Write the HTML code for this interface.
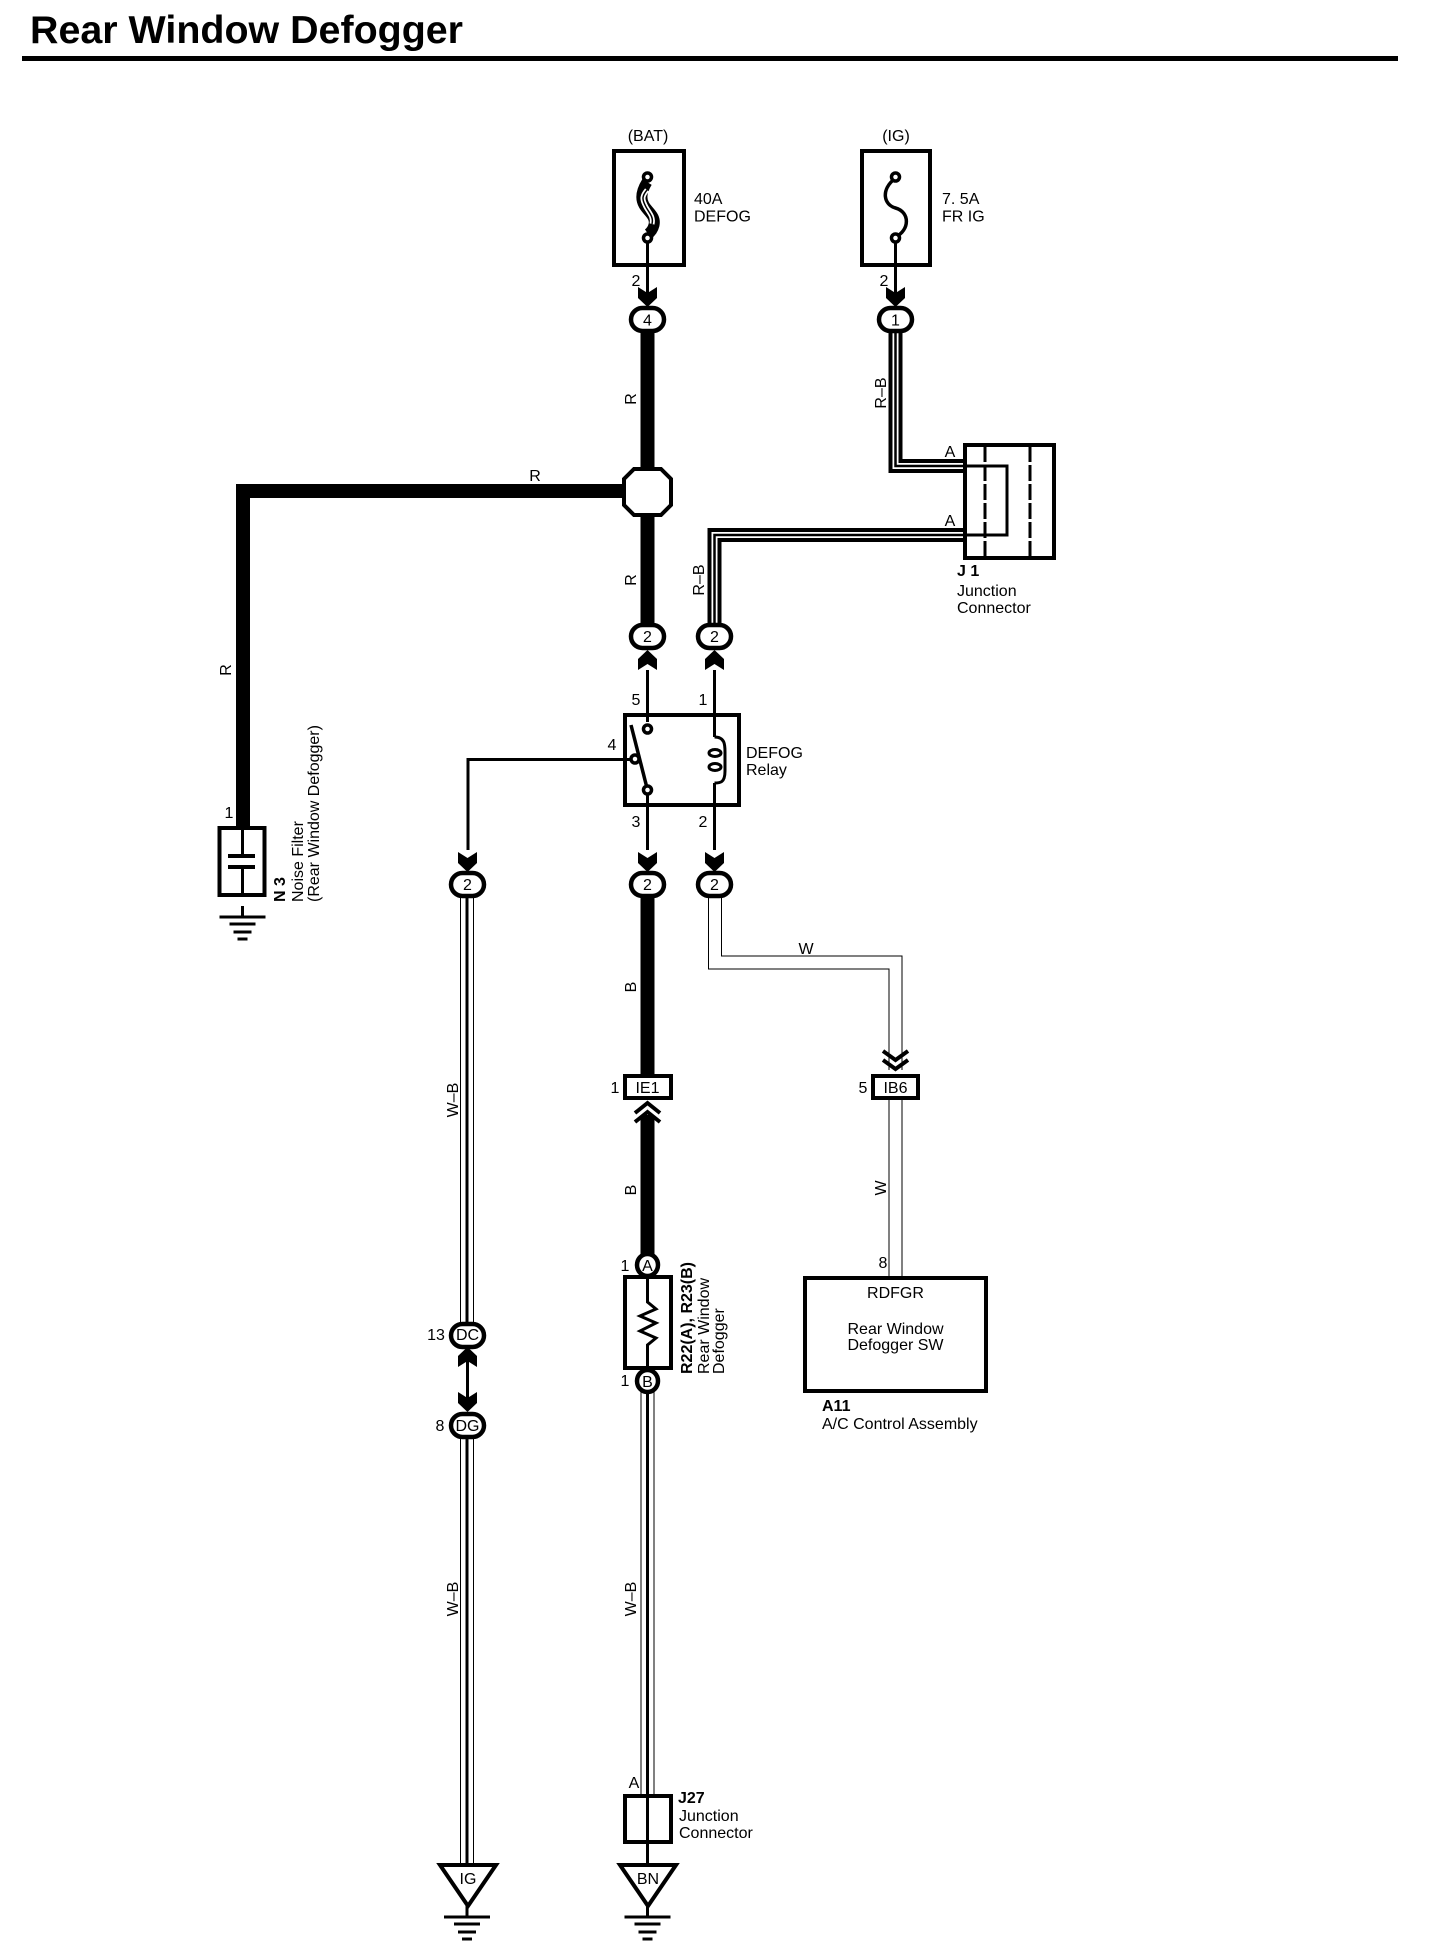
<!DOCTYPE html>
<html><head><meta charset="utf-8"><title>Rear Window Defogger</title>
<style>
html,body{margin:0;padding:0;background:#fff}
svg{display:block}
text{font-family:"Liberation Sans",sans-serif;font-size:16px;fill:#000}
.b{font-weight:bold}
.m{text-anchor:middle}
.s{fill:none;stroke:#000;stroke-width:3}
.w{fill:#fff;stroke:#000;stroke-width:4}
.c{fill:#fff;stroke:#000;stroke-width:4.500}
.k{stroke:#000;fill:none}
</style></head><body>
<svg width="1440" height="1956" viewBox="0 0 1440 1956" xmlns="http://www.w3.org/2000/svg">
<defs>
<path id="dn" d="M-9.500,-19 L0,-13 L9.500,-19 V-8 L0,1 L-9.500,-8Z" fill="#000"/>
<path id="up" d="M-9.500,19 L0,13 L9.500,19 V8 L0,-1 L-9.500,8Z" fill="#000"/>
<g id="gnd" class="k"><path d="M0,0V11" stroke-width="3"/><path d="M-23,11H23" stroke-width="3"/><path d="M-13,18H13M-9,26H9M-5,33H5" stroke-width="3"/></g>
</defs>
<text x="30" y="43" class="b" style="font-size:39px" textLength="433" lengthAdjust="spacingAndGlyphs">Rear Window Defogger</text>
<rect x="22" y="56" width="1376" height="5"/>

<!-- thick wires -->
<path class="k" stroke-width="14" stroke-linejoin="miter" d="M647.500,330V630M647.500,491H243V830M647.500,890V1078M647.500,1115V1256"/>

<!-- R-B wires -->
<path class="k" stroke-width="14" d="M895.500,330V466H966M714.500,628V535H966"/>
<path style="fill:none;stroke:#fff" stroke-width="6" d="M895.500,330V466H966M714.500,628V535H966"/>
<path class="k" stroke-width="2.500" d="M895.500,330V466H966M714.500,628V535H966"/>

<!-- W wire & W-B wires -->
<path class="k" stroke-width="14" d="M715,895V962.500H895.500V1070M895.500,1095V1280M467,895V1326M467,1436V1868M647.500,1390V1798"/>
<path style="fill:none;stroke:#fff" stroke-width="12" d="M715,895V962.500H895.500V1070M895.500,1095V1280M467,895V1326M467,1436V1868M647.500,1390V1798"/>
<path class="k" stroke-width="3" d="M467,895V1326M467,1436V1868M647.500,1390V1798"/>

<!-- fuses -->
<rect x="614" y="151" width="70" height="114" class="w"/>
<rect x="862" y="151" width="68" height="114" class="w"/>
<path class="k" stroke-width="11" d="M647,182C642,190 640,198 644,205C648,212 656,216 654,225C653,229 651,232 648,234"/>
<path d="M647,190C642,196 642,199 645,205C648,212 654,216 652,224" style="fill:none;stroke:#fff" stroke-width="5"/>
<path class="k" stroke-width="1.500" d="M647,190C642,196 642,199 645,205C648,212 654,216 652,224"/>
<path class="k" stroke-width="3.500" d="M895.500,178C880,190 884,205 895.500,208C910,212 910,230 895.500,237"/>
<path class="k" stroke-width="3" d="M647.500,238V295M895.500,238V295"/>
<circle cx="647.500" cy="177" r="4" class="w" style="stroke-width:3.500"/><circle cx="647.500" cy="238" r="4" class="w" style="stroke-width:3.500"/>
<circle cx="895.500" cy="177" r="4" class="w" style="stroke-width:3.500"/><circle cx="895.500" cy="238" r="4" class="w" style="stroke-width:3.500"/>
<use href="#dn" x="647.500" y="306"/><use href="#dn" x="895.500" y="306"/>
<text x="648" y="141" class="m">(BAT)</text><text x="896" y="141" class="m">(IG)</text>
<text x="694" y="204">40A</text><text x="694" y="221.500">DEFOG</text>
<text x="942" y="204">7. 5A</text><text x="942" y="221.500">FR IG</text>
<text x="636" y="286" class="m">2</text><text x="884" y="286" class="m">2</text>

<!-- octagon -->
<polygon points="634,469 661,469 671,479 671,505 661,515 634,515 624,505 624,479" class="w"/>

<!-- J1 -->
<rect x="965" y="445" width="89" height="113" class="w"/>
<path class="k" stroke-width="3" d="M965,466H1007V535H965"/>
<path class="k" stroke-width="3" stroke-dasharray="16 3" d="M985,446V557M1030,446V557"/>
<text x="950" y="457" class="m">A</text><text x="950" y="526" class="m">A</text>
<text x="957" y="576" class="b">J 1</text>
<text x="957" y="596">Junction</text><text x="957" y="613">Connector</text>

<!-- relay -->
<rect x="625" y="715" width="114" height="90" class="w"/>
<path class="k" stroke-width="3" d="M647.500,670V722M714.500,670V737M647.500,794V850M714.500,783V850M468,850V759.500H630"/>
<path class="k" stroke-width="3" d="M714.500,737C725,737 725,745 725,752C725,760 725,768 725,771C725,783 720,783 714.500,783"/>
<ellipse cx="715" cy="753" rx="6" ry="3.500" class="w" style="stroke-width:3"/>
<ellipse cx="715" cy="767" rx="6" ry="3.500" class="w" style="stroke-width:3"/>
<path class="k" stroke-width="3.500" d="M631,725L647,788"/>
<circle cx="647.500" cy="729" r="4" class="w" style="stroke-width:3.500"/>
<circle cx="635" cy="759" r="4" class="w" style="stroke-width:3.500"/>
<circle cx="647.500" cy="790" r="4" class="w" style="stroke-width:3.500"/>
<use href="#up" x="647.500" y="651"/><use href="#up" x="714.500" y="651"/>
<use href="#dn" x="467.500" y="871"/><use href="#dn" x="647.500" y="871"/><use href="#dn" x="714.500" y="871"/>
<text x="636" y="705" class="m">5</text><text x="703" y="705" class="m">1</text>
<text x="612" y="750" class="m">4</text>
<text x="636" y="827" class="m">3</text><text x="703" y="827" class="m">2</text>
<text x="746" y="758">DEFOG</text><text x="746" y="775">Relay</text>

<!-- oval connectors -->
<g>
<rect x="631" y="308" width="33" height="23" rx="11.500" class="c"/><text x="647.500" y="325.500" class="m">4</text>
<rect x="879" y="308" width="33" height="23" rx="11.500" class="c"/><text x="895.500" y="325.500" class="m">1</text>
<rect x="631" y="625" width="33" height="23" rx="11.500" class="c"/><text x="647.500" y="642" class="m">2</text>
<rect x="698" y="625" width="33" height="23" rx="11.500" class="c"/><text x="714.500" y="642" class="m">2</text>
<rect x="451" y="873" width="33" height="23" rx="11.500" class="c"/><text x="467.500" y="890" class="m">2</text>
<rect x="631" y="873" width="33" height="23" rx="11.500" class="c"/><text x="647.500" y="890" class="m">2</text>
<rect x="698" y="873" width="33" height="23" rx="11.500" class="c"/><text x="714.500" y="890" class="m">2</text>
<rect x="451" y="1324" width="33" height="23" rx="11.500" class="c"/><text x="467.500" y="1340" class="m">DC</text>
<rect x="451" y="1414" width="33" height="23" rx="11.500" class="c"/><text x="467.500" y="1431" class="m">DG</text>
<ellipse cx="647.500" cy="1265" rx="10.500" ry="11" class="c"/><text x="647.500" y="1271" class="m">A</text>
<ellipse cx="647.500" cy="1381" rx="10.500" ry="11" class="c"/><text x="647.500" y="1387" class="m">B</text>
</g>
<text x="436" y="1340" class="m">13</text><text x="440" y="1431" class="m">8</text>
<path class="k" stroke-width="3" d="M467.500,1360V1400"/>
<use href="#up" x="467.500" y="1348"/><use href="#dn" x="467.500" y="1411"/>

<!-- IE1 / IB6 -->
<rect x="625" y="1076" width="46" height="22" class="w"/><text x="647.500" y="1093" class="m">IE1</text>
<rect x="873" y="1076" width="45" height="22" class="w"/><text x="895.500" y="1093" class="m">IB6</text>
<text x="615" y="1093" class="m">1</text><text x="863" y="1093" class="m">5</text>
<path class="k" stroke-width="4" d="M883,1051L895.500,1060L908,1051M883,1060L895.500,1069L908,1060"/>
<path class="k" stroke-width="4" d="M635,1113L647.500,1103L660,1113M635,1122L647.500,1112L660,1122"/>

<!-- R22 -->
<rect x="625" y="1277" width="46" height="91" class="w"/>
<path class="k" stroke-width="3" d="M647.500,1278V1302L656,1309L640,1316L656,1323L640,1331L656,1338L647.500,1345V1367"/>
<text x="625" y="1271" class="m">1</text><text x="625" y="1386" class="m">1</text>
<text transform="translate(692,1374) rotate(-90)" class="b">R22(A), R23(B)</text>
<text transform="translate(709,1374) rotate(-90)">Rear Window</text>
<text transform="translate(724,1374) rotate(-90)">Defogger</text>

<!-- A11 -->
<rect x="805" y="1278" width="181" height="113" class="w"/>
<text x="895.500" y="1298" class="m">RDFGR</text>
<text x="895.500" y="1334" class="m">Rear Window</text><text x="895.500" y="1350" class="m">Defogger SW</text>
<text x="822" y="1411" class="b">A11</text>
<text x="822" y="1429">A/C Control Assembly</text>
<text x="883" y="1268" class="m">8</text>

<!-- Noise filter -->
<rect x="219.500" y="828" width="45" height="67" class="w"/>
<path class="k" stroke-width="3" d="M242.500,830V855M242.500,869V895"/>
<path class="k" stroke-width="4" d="M228,856H255M228,867H255"/>
<use href="#gnd" x="242.500" y="895" transform="translate(0,11)"/>
<text x="229" y="818" class="m">1</text>
<text transform="translate(285,902) rotate(-90)" class="b">N 3</text>
<text transform="translate(303,902) rotate(-90)">Noise Filter</text>
<text transform="translate(319,902) rotate(-90)">(Rear Window Defogger)</text>

<!-- wire labels -->
<g>
<text transform="translate(636,399) rotate(-90)" class="m">R</text>
<text transform="translate(636,580) rotate(-90)" class="m">R</text>
<text transform="translate(231,670) rotate(-90)" class="m">R</text>
<text x="535" y="481" class="m">R</text>
<text transform="translate(886,393) rotate(-90)" class="m">R–B</text>
<text transform="translate(704,580) rotate(-90)" class="m">R–B</text>
<text transform="translate(636,987) rotate(-90)" class="m">B</text>
<text transform="translate(636,1190) rotate(-90)" class="m">B</text>
<text transform="translate(458,1100) rotate(-90)" class="m">W–B</text>
<text transform="translate(458,1599) rotate(-90)" class="m">W–B</text>
<text transform="translate(636,1599) rotate(-90)" class="m">W–B</text>
<text x="806" y="954" class="m">W</text>
<text transform="translate(886,1188) rotate(-90)" class="m">W</text>
</g>

<!-- J27 -->
<rect x="625" y="1796" width="46" height="46" class="w"/>
<path class="k" stroke-width="3" d="M647.500,1796V1868"/>
<text x="634" y="1788" class="m">A</text>
<text x="678" y="1803" class="b">J27</text>
<text x="679" y="1821">Junction</text><text x="679" y="1838">Connector</text>

<!-- grounds -->
<polygon points="440,1865 496,1865 468,1906" class="w"/>
<polygon points="620,1865 676,1865 648,1906" class="w"/>
<text x="468" y="1884" class="m">IG</text><text x="648" y="1884" class="m">BN</text>
<use href="#gnd" x="467" y="1906"/><use href="#gnd" x="647.500" y="1906"/>
</svg>
</body></html>
